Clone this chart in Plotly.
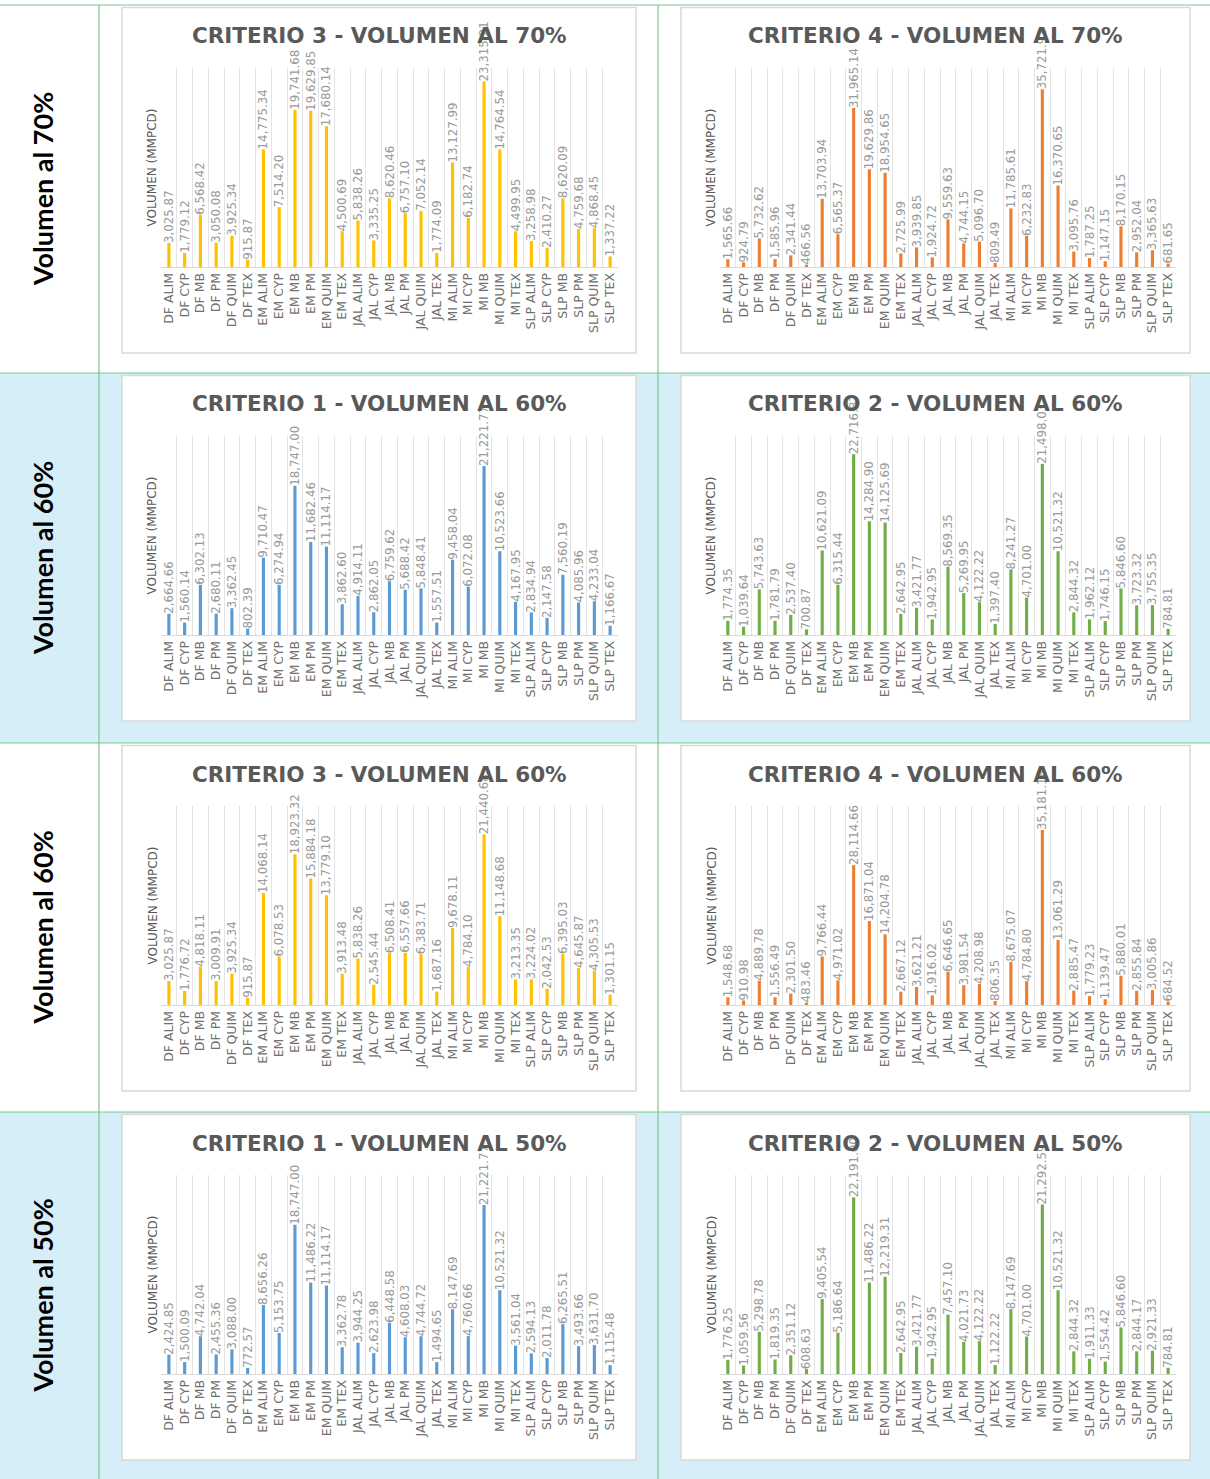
import plotly.graph_objects as go

W, H = 1210, 1479

categories = ["DF ALIM", "DF CYP", "DF MB", "DF PM", "DF QUIM", "DF TEX",
              "EM ALIM", "EM CYP", "EM MB", "EM PM", "EM QUIM", "EM TEX",
              "JAL ALIM", "JAL CYP", "JAL MB", "JAL PM", "JAL QUIM", "JAL TEX",
              "MI ALIM", "MI CYP", "MI MB", "MI QUIM", "MI TEX",
              "SLP ALIM", "SLP CYP", "SLP MB", "SLP PM", "SLP QUIM", "SLP TEX"]

c3_70 = [3025.87, 1779.12, 6568.42, 3050.08, 3925.34, 915.87, 14775.34, 7514.20, 19741.68, 19629.85,
         17680.14, 4500.69, 5838.26, 3335.25, 8620.46, 6757.10, 7052.14, 1774.09, 13127.99, 6182.74,
         23315.21, 14764.54, 4499.95, 3258.98, 2410.27, 8620.09, 4759.68, 4868.45, 1337.22]
c4_70 = [1565.66, 924.79, 5732.62, 1585.96, 2341.44, 466.56, 13703.94, 6565.37, 31965.14, 19629.86,
         18954.65, 2725.99, 3939.85, 1924.72, 9559.63, 4744.15, 5096.70, 809.49, 11785.61, 6232.83,
         35721.92, 16370.65, 3095.76, 1787.25, 1147.15, 8170.15, 2952.04, 3365.63, 681.65]
c1_60 = [2664.66, 1560.14, 6302.13, 2680.11, 3362.45, 802.39, 9710.47, 6274.94, 18747.00, 11682.46,
         11114.17, 3862.60, 4914.11, 2862.05, 6759.62, 5688.42, 5848.41, 1557.51, 9458.04, 6072.08,
         21221.77, 10523.66, 4167.95, 2834.94, 2147.58, 7560.19, 4085.96, 4233.04, 1166.67]
c2_60 = [1774.35, 1039.64, 5743.63, 1781.79, 2537.40, 700.87, 10621.09, 6315.44, 22716.87, 14284.90,
         14125.69, 2642.95, 3421.77, 1942.95, 8569.35, 5269.95, 4122.22, 1397.40, 8241.27, 4701.00,
         21498.03, 10521.32, 2844.32, 1962.12, 1746.15, 5846.60, 3723.32, 3755.35, 784.81]
c3_60 = [3025.87, 1776.72, 4818.11, 3009.91, 3925.34, 915.87, 14068.14, 6078.53, 18923.32, 15884.18,
         13779.10, 3913.48, 5838.26, 2545.44, 6508.41, 6557.66, 6383.71, 1687.16, 9678.11, 4784.10,
         21440.68, 11148.68, 3213.35, 3224.02, 2042.53, 6395.03, 4645.87, 4305.53, 1301.15]
c4_60 = [1548.68, 910.98, 4889.78, 1556.49, 2301.50, 483.46, 9766.44, 4971.02, 28114.66, 16871.04,
         14204.78, 2667.12, 3621.21, 1916.02, 6646.65, 3981.54, 4208.98, 806.35, 8675.07, 4784.80,
         35181.16, 13061.29, 2885.47, 1779.23, 1139.47, 5880.01, 2855.84, 3005.86, 684.52]
c1_50 = [2424.85, 1500.09, 4742.04, 2455.36, 3088.00, 772.57, 8656.26, 5153.75, 18747.00, 11486.22,
         11114.17, 3362.78, 3944.25, 2623.98, 6448.58, 4608.03, 4744.72, 1494.65, 8147.69, 4760.66,
         21221.77, 10521.32, 3561.04, 2594.13, 2011.78, 6265.51, 3493.66, 3631.70, 1115.48]
c2_50 = [1776.25, 1059.56, 5298.78, 1819.35, 2351.12, 608.63, 9405.54, 5186.64, 22191.00, 11486.22,
         12219.31, 2642.95, 3421.77, 1942.95, 7457.10, 4021.73, 4122.22, 1122.22, 8147.69, 4701.00,
         21292.59, 10521.32, 2844.32, 1911.33, 1554.42, 5846.60, 2844.17, 2921.33, 784.81]

titles = ["CRITERIO 3 - VOLUMEN AL 70%", "CRITERIO 4 - VOLUMEN AL 70%",
          "CRITERIO 1 - VOLUMEN AL 60%", "CRITERIO 2 - VOLUMEN AL 60%",
          "CRITERIO 3 - VOLUMEN AL 60%", "CRITERIO 4 - VOLUMEN AL 60%",
          "CRITERIO 1 - VOLUMEN AL 50%", "CRITERIO 2 - VOLUMEN AL 50%"]
row_labels = ["Volumen al 70%", "Volumen al 60%", "Volumen al 60%", "Volumen al 50%"]
y_title = "VOLUMEN (MMPCD)"
series = [c3_70, c4_70, c1_60, c2_60, c3_60, c4_60, c1_50, c2_50]
colors = ["#FFC000", "#ED7D31", "#5B9BD5", "#70AD47", "#FFC000", "#ED7D31", "#5B9BD5", "#70AD47"]
ymax = [25000, 40000, 25000, 25000, 25000, 40000, 25000, 25000]

# layout geometry (pixels)
row_tops = [5, 373, 743, 1112]
row_bottoms = [373, 743, 1112, 1479]
box_left = [(122, 636), (681, 1190)]
plot_x = [(161, 618), (720, 1176)]


def px(x):
    return x / W


def py(y):
    return 1 - y / H


fig = go.Figure()
shapes = []
annotations = []
layout_axes = {}

# row backgrounds
for r in range(4):
    if r % 2 == 1:
        shapes.append(dict(type="rect", xref="paper", yref="paper", x0=0, x1=1,
                           y0=py(row_bottoms[r]), y1=py(row_tops[r]),
                           fillcolor="#D6EEF7", line=dict(width=0), layer="below"))

# table lines
line_col = "#7CC592"
for y in row_tops:
    shapes.append(dict(type="line", xref="paper", yref="paper", x0=0, x1=1, y0=py(y), y1=py(y),
                       line=dict(color=line_col, width=1.2), layer="below"))
for x in [99, 658]:
    shapes.append(dict(type="line", xref="paper", yref="paper", x0=px(x), x1=px(x), y0=0, y1=py(5),
                       line=dict(color=line_col, width=1.2), layer="below"))

for r in range(4):
    top = row_tops[r]
    annotations.append(dict(xref="paper", yref="paper", x=px(42), y=py((row_tops[r] + row_bottoms[r]) / 2),
                            text="<b>" + row_labels[r] + "</b>", textangle=-90, showarrow=False,
                            font=dict(family="Lato", size=27, color="#000000"),
                            xanchor="center", yanchor="middle"))
    for c in range(2):
        i = r * 2 + c
        n = i + 1
        bx0, bx1 = box_left[c]
        by0, by1 = top + 2.5, top + 348
        shapes.append(dict(type="rect", xref="paper", yref="paper", x0=px(bx0), x1=px(bx1),
                           y0=py(by1), y1=py(by0), fillcolor="#FFFFFF",
                           line=dict(color="#D9D9D9", width=1.5), layer="below"))
        p_top, p_bot = top + 63, top + 262
        xa = "xaxis" if n == 1 else f"xaxis{n}"
        ya = "yaxis" if n == 1 else f"yaxis{n}"
        xr = "x" if n == 1 else f"x{n}"
        yr = "y" if n == 1 else f"y{n}"
        layout_axes[xa] = dict(domain=[px(plot_x[c][0]), px(plot_x[c][1])], anchor=yr,
                               type="category", tickson="boundaries", showgrid=True,
                               gridcolor="#E3E3E3", gridwidth=1, showline=True, linecolor="#D9D9D9",
                               ticks="", tickangle=-90,
                               tickfont=dict(family="DejaVu Sans", size=12.5, color="#707070"))
        layout_axes[ya] = dict(domain=[py(p_bot), py(p_top)], anchor=xr, range=[0, ymax[i]],
                               showgrid=False, zeroline=False, showline=False, showticklabels=False,
                               ticks="")
        fig.add_trace(go.Bar(x=categories, y=series[i], xaxis=xr, yaxis=yr,
                             marker=dict(color=colors[i], line=dict(width=0)), width=0.2,
                             texttemplate="%{y:,.2f}", textposition="outside", textangle=-90,
                             textfont=dict(family="DejaVu Sans", size=11.8, color="#9A9A9A"),
                             constraintext="none", cliponaxis=False, showlegend=False,
                             hoverinfo="x+y"))
        annotations.append(dict(xref="paper", yref="paper", x=px((bx0 + bx1) / 2), y=py(top + 31),
                                text="<b>" + titles[i] + "</b>", showarrow=False,
                                font=dict(family="DejaVu Sans", size=21.5, color="#595959"),
                                xanchor="center", yanchor="middle"))
        annotations.append(dict(xref="paper", yref="paper", x=px(plot_x[c][0] - 9),
                                y=py((p_top + p_bot) / 2), text=y_title, textangle=-90,
                                showarrow=False,
                                font=dict(family="DejaVu Sans", size=12, color="#595959"),
                                xanchor="center", yanchor="middle"))

fig.update_layout(width=W, height=H, margin=dict(l=0, r=0, t=0, b=0),
                  paper_bgcolor="#FFFFFF", plot_bgcolor="rgba(0,0,0,0)",
                  shapes=shapes, annotations=annotations, bargap=0.8, showlegend=False,
                  **layout_axes)

fig.write_html("out.html", config={"displayModeBar": False},
               post_script="document.body.style.margin='0';document.body.style.overflow='hidden';")
